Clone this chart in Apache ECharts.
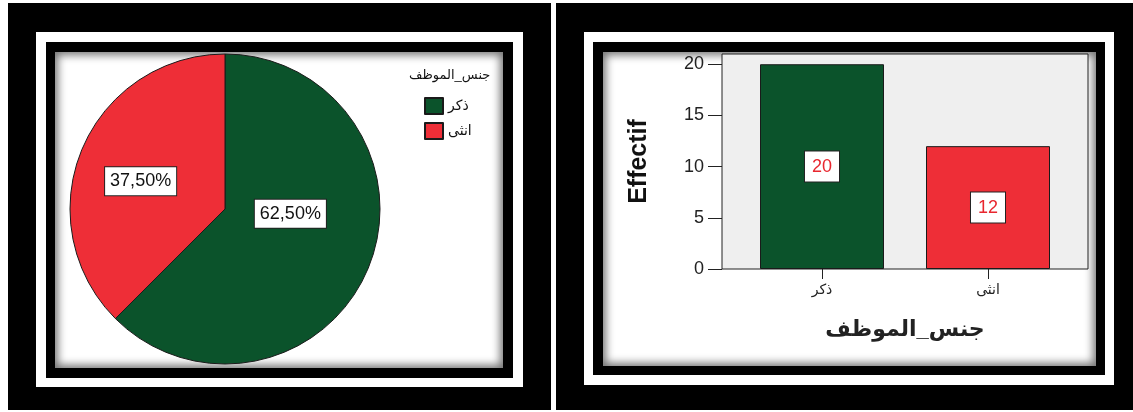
<!DOCTYPE html>
<html>
<head>
<meta charset="utf-8">
<script src="https://cdn.jsdelivr.net/npm/echarts@6/dist/echarts.min.js"></script>
<style>
  html, body { margin: 0; padding: 0; background: #fff; }
  #wrap { position: relative; width: 1133px; height: 412px; overflow: hidden; }
  .blk { position: absolute; background: #000; }
  .wht { position: absolute; background: #fff; }
  .pane { position: absolute; background: #fff; box-shadow: inset 0 0 9px 3px rgba(0,0,0,0.55); }
  #chart { position: absolute; left: 0; top: 0; width: 1133px; height: 412px; }
</style>
</head>
<body>
<div id="wrap">
  <!-- left frame -->
  <div class="blk" style="left:8px;top:3px;width:543px;height:407px"></div>
  <div class="wht" style="left:36px;top:32px;width:487px;height:355px"></div>
  <div class="blk" style="left:46px;top:42px;width:467px;height:336px"></div>
  <div class="pane" style="left:55px;top:52px;width:448px;height:316px"></div>
  <!-- right frame -->
  <div class="blk" style="left:556px;top:3px;width:577px;height:407px"></div>
  <div class="wht" style="left:584px;top:32px;width:530px;height:353px"></div>
  <div class="blk" style="left:593px;top:42px;width:512px;height:333px"></div>
  <div class="pane" style="left:603px;top:52px;width:493px;height:314px"></div>
  <div id="chart"></div>
</div>
<script>
// data
var categories = ["ذكر", "انثى"];
var counts = [20, 12];
var sliceColors = ["#0b532b", "#ee2e37"];
var yTicks = [0, 5, 10, 15, 20];
var legendTitle = "جنس_الموظف";
var xName = "جنس_الموظف";
var yName = "Effectif";

var FONT = '"Liberation Sans", "DejaVu Sans", Arial, sans-serif';

var chart = echarts.init(document.getElementById("chart"));

var pieData = categories.map(function (c, i) {
  return { name: c, value: counts[i], itemStyle: { color: sliceColors[i] } };
});
var barData = counts.map(function (v, i) {
  return { value: v, itemStyle: { color: sliceColors[i] } };
});

var option = {
  backgroundColor: "transparent",
  animation: false,
  textStyle: { fontFamily: FONT },
  title: {
    text: legendTitle,
    left: 404,
    top: 64,
    textStyle: { fontSize: 13, fontWeight: "normal", color: "#111", fontFamily: FONT }
  },
  legend: {
    orient: "vertical",
    left: 419,
    top: 92,
    icon: "rect",
    itemWidth: 18,
    itemHeight: 16,
    itemGap: 7,
    textStyle: { fontSize: 14, color: "#111", fontFamily: FONT },
    data: categories
  },
  grid: [
    // frame of the bar plot
    { left: 722, top: 54, width: 366, height: 215, show: true,
      backgroundColor: "#efefef", borderColor: "#222", borderWidth: 1 },
    // bars
    { left: 739, top: 54, width: 332, height: 215 }
  ],
  xAxis: [
    { gridIndex: 0, type: "value", show: false, min: 0, max: 1 },
    {
      gridIndex: 1,
      type: "category",
      data: categories,
      boundaryGap: true,
      axisLine: { show: false },
      axisTick: { show: true, alignWithLabel: true, length: 10, lineStyle: { color: "#222", width: 1 } },
      axisLabel: { fontSize: 14, color: "#222", margin: 14, fontFamily: FONT },
      name: xName,
      nameLocation: "middle",
      nameGap: 50,
      nameTextStyle: { fontSize: 22, fontWeight: "bold", color: "#222", fontFamily: FONT }
    }
  ],
  yAxis: [
    {
      gridIndex: 0,
      type: "value",
      min: 0,
      max: 21,
      interval: 5,
      splitLine: { show: false },
      axisLine: { show: false },
      axisTick: { show: true, length: 14, customValues: yTicks, lineStyle: { color: "#222", width: 1 } },
      axisLabel: { fontSize: 18, color: "#222", margin: 18, customValues: yTicks, fontFamily: FONT },
      name: yName,
      nameLocation: "middle",
      nameRotate: 90,
      nameGap: 70,
      nameTextStyle: { fontSize: 25, fontWeight: "bold", color: "#111", fontFamily: FONT }
    },
    { gridIndex: 1, type: "value", min: 0, max: 21, show: false }
  ],
  series: [
    {
      type: "pie",
      center: [225, 209],
      radius: 155,
      startAngle: 90,
      clockwise: true,
      data: pieData,
      itemStyle: { borderColor: "#1a1a1a", borderWidth: 1 },
      emphasis: { disabled: true },
      labelLine: { show: false },
      label: {
        show: true,
        position: "inside",
        formatter: function (p) { return p.percent.toFixed(2).replace(".", ",") + "%"; },
        fontSize: 18,
        color: "#111",
        fontFamily: FONT,
        backgroundColor: "#fff",
        borderColor: "#222",
        borderWidth: 1,
        padding: [6, 5, 4, 5]
      },
      labelLayout: function (p) {
        return p.dataIndex === 0 ? { dx: -9, dy: -26 } : { dx: -10, dy: 3 };
      }
    },
    {
      type: "bar",
      xAxisIndex: 1,
      yAxisIndex: 1,
      data: barData,
      barWidth: 124,
      itemStyle: { borderColor: "#1a1a1a", borderWidth: 1 },
      emphasis: { disabled: true },
      label: {
        show: true,
        position: "inside",
        fontSize: 18,
        color: "#e8262e",
        fontFamily: FONT,
        backgroundColor: "#fff",
        borderColor: "#222",
        borderWidth: 1,
        padding: [7, 7, 5, 7]
      }
    }
  ]
};

chart.setOption(option);
</script>
</body>
</html>
